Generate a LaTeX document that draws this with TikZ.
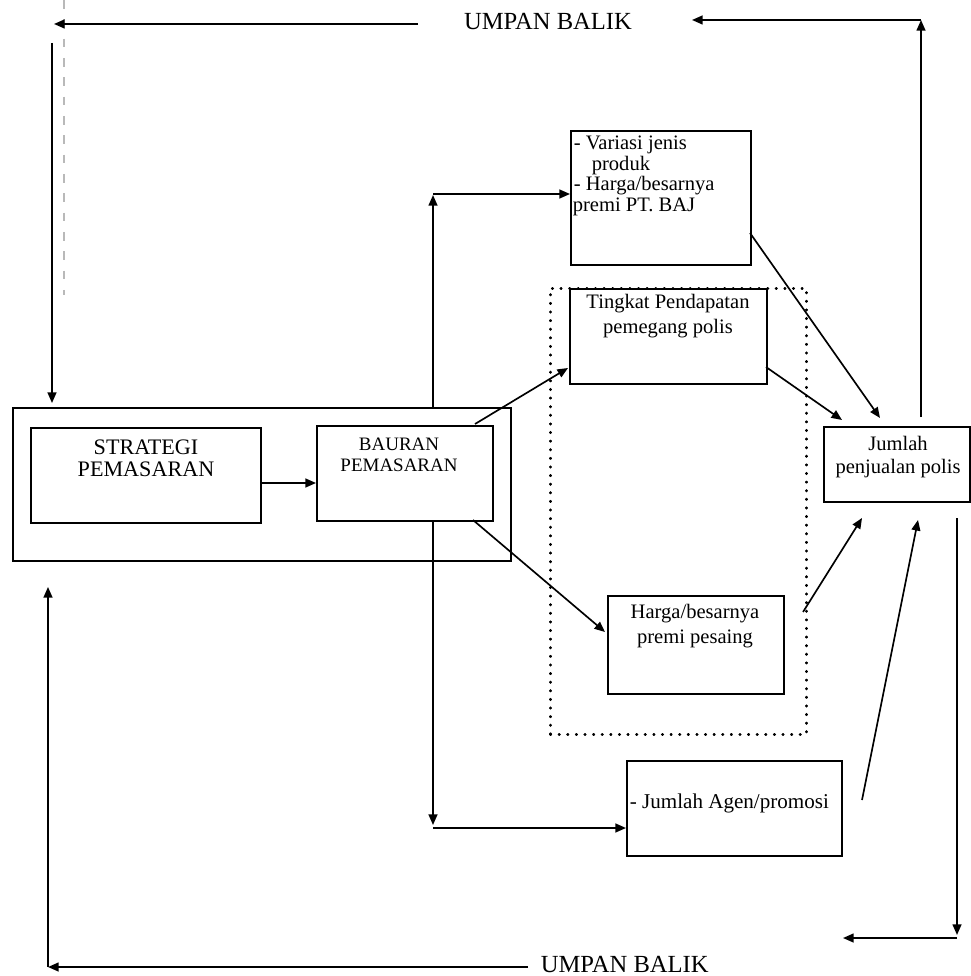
\documentclass[tikz,border=0pt]{standalone}
\usepackage{fontspec}
\setmainfont{Liberation Serif}
\usetikzlibrary{arrows.meta}
\begin{document}
\begin{tikzpicture}[x=0.02cm,y=-0.02cm, line width=0.95pt,
  arr/.style={-{Triangle[length=6pt,width=5pt]}},
  sz/.style 2 args={minimum width={#1*0.02cm}, minimum height={#2*0.02cm}},
  bx/.style={draw, fill=white, inner sep=0pt, anchor=north west},
  grpbox/.style={draw, inner sep=0pt, anchor=north west, line width=1.5pt, line cap=round, dash pattern=on 0.3pt off 4.6pt},
  tl/.style={inner sep=0pt, anchor=base},
  tlw/.style={inner sep=0pt, anchor=base west},
  fbig/.style={font=\fontsize{14}{16}\selectfont},
  fstr/.style={font=\fontsize{12.6}{15}\selectfont},
  fbau/.style={font=\fontsize{10.8}{13}\selectfont},
  fmid/.style={font=\fontsize{11.7}{14}\selectfont},
  fagen/.style={font=\fontsize{12}{14}\selectfont}
]
\useasboundingbox (0,0) rectangle (970,976);

% faint scan line
\draw[gray!55, line width=0.6pt, dash pattern=on 5pt off 6pt] (64,0) -- (64,295);

% group (dotted) box
\node[grpbox, sz={256}{446}] (grp) at (549,287) {};

% boxes
\node[bx, sz={498}{153}] (outer) at (12,407) {};
\node[bx, sz={230}{95}] (strategi) at (30,427) {};
\node[bx, sz={176}{95}] (bauran) at (316,425) {};
\node[bx, sz={180}{134}] (variasi) at (570,130) {};
\node[bx, sz={197}{95}] (tingkat) at (569,288) {};
\node[bx, sz={176}{98}] (pesaing) at (607,595) {};
\node[bx, sz={146}{75}] (jumlah) at (823,426) {};
\node[bx, sz={215}{95}] (agen) at (626,760) {};

% texts
\node[tl, fbig] (umptop) at (548,30) {UMPAN BALIK};
\node[tlw, fbig] (umpbot) at (540,972) {UMPAN BALIK};

\node[tl, fstr] (s1) at (146,454) {STRATEGI};
\node[tl, fstr] (s2) at (146,476) {PEMASARAN};

\node[tl, fbau] (b1) at (399,450) {BAURAN};
\node[tl, fbau] (b2) at (399,471) {PEMASARAN};

\node[tlw, fmid] (v1) at (573,150) {- Variasi jenis};
\node[tlw, fmid] (v2) at (591,170.5) {produk};
\node[tlw, fmid] (v3) at (573,191) {- Harga/besarnya};
\node[tlw, fmid] (v4) at (572,211.5) {premi PT. BAJ};

\node[tl, fmid] (t1) at (668,308) {Tingkat Pendapatan};
\node[tl, fmid] (t2) at (668,333) {pemegang polis};

\node[tl, fmid] (j1) at (898,450) {Jumlah};
\node[tl, fmid] (j2) at (898,473) {penjualan polis};

\node[tl, fmid] (p1) at (695,618) {Harga/besarnya};
\node[tl, fmid] (p2) at (695,643) {premi pesaing};

\node[tlw, fagen] (a1) at (629,808) {- Jumlah Agen/promosi};

% coordinates for free ends
\coordinate (tA) at (418,24);
\coordinate (tB) at (54,24);
\coordinate (lA) at (52,43);
\coordinate (lB) at (52,403);
\coordinate (rA) at (921,417);
\coordinate (rB) at (921,20);
\coordinate (rC) at (692,20);
\coordinate (brA) at (957,518);
\coordinate (brB) at (957,935);
\coordinate (brC) at (957,938);
\coordinate (brD) at (843,938);
\coordinate (blA) at (528,967);
\coordinate (blB) at (48,967);
\coordinate (blC) at (48,587);
\coordinate (up1) at (433,407);
\coordinate (up2) at (433,195);
\coordinate (up3) at (433,194);
\coordinate (dn1) at (433,520);
\coordinate (dn2) at (433,825);
\coordinate (dn3) at (433,828);
\coordinate (sb) at (288,483);

% feedback loops
\draw[arr] (tA) -- (tB);
\draw[arr] (lA) -- (lB);
\draw[arr] (rA) -- (rB);
\draw[arr] (rB) -- (rC);
\draw[arr] (brA) -- (brB);
\draw[arr] (brC) -- (brD);
\draw[arr] (blA) -- (blB);
\draw[arr] (blB) -- (blC);

% main flow
\draw[arr] (strategi.east |- sb) -- (bauran.west |- sb);
\draw[arr] (up1) -- (up2);
\draw[arr] (up3) -- (variasi.west |- up3);
\draw[arr] (dn1) -- (dn2);
\draw[arr] (dn3) -- (agen.west |- dn3);

\coordinate (d1s) at (475,424);
\coordinate (d1e) at (568,368);
\coordinate (d2s) at (473,520);
\coordinate (d2e) at (605,632);
\coordinate (d3s) at (750,233);
\coordinate (d3e) at (880,418);
\coordinate (d4s) at (766,367);
\coordinate (d4e) at (842,420);
\coordinate (d5s) at (803,612);
\coordinate (d5e) at (862,518);
\coordinate (d6s) at (862,800);
\coordinate (d6e) at (918,520);
\draw[arr] (d1s) -- (d1e);
\draw[arr] (d2s) -- (d2e);
\draw[arr] (d3s) -- (d3e);
\draw[arr] (d4s) -- (d4e);
\draw[arr] (d5s) -- (d5e);
\draw[arr] (d6s) -- (d6e);
\end{tikzpicture}
\end{document}
